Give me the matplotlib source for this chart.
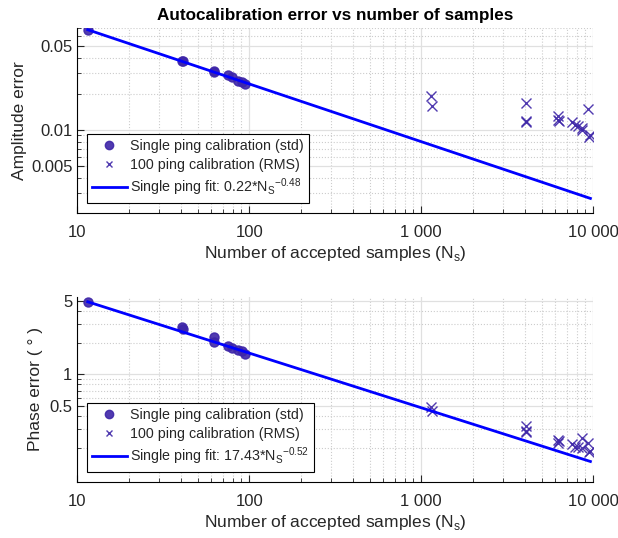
import numpy as np
import matplotlib.pyplot as plt
from matplotlib.ticker import FixedLocator, FixedFormatter, NullFormatter

plt.rcParams['font.family'] = ['Liberation Sans', 'DejaVu Sans']

# single ping calibration points
n_single = [11.5, 40.7, 40.9, 62.4, 62.6, 75.5, 79.6, 86.3, 90.3, 94.4]
amp_single = [0.0675, 0.0376, 0.0372, 0.0309, 0.0305, 0.0285, 0.0274, 0.0257, 0.0251, 0.0241]
phase_single = [4.9, 2.84, 2.69, 2.25, 2.04, 1.86, 1.77, 1.70, 1.67, 1.56]

# 100 ping calibration points
n_multi = [1140, 1150, 4050, 4050, 4070, 6250, 6270, 6280, 7480, 7830, 8190, 8570, 8650, 9270, 9400, 9620]
amp_multi = [0.0193, 0.0157, 0.0169, 0.0119, 0.0117, 0.0130, 0.0122, 0.0118,
             0.0116, 0.0110, 0.0107, 0.0104, 0.0100, 0.0150, 0.0087, 0.0090]
phase_multi = [0.49, 0.45, 0.32, 0.28, 0.29, 0.237, 0.223, 0.23,
               0.217, 0.204, 0.204, 0.198, 0.246, 0.220, 0.183, 0.187]

# power law fits
amp_fit = (0.22, -0.48)
phase_fit = (17.43, -0.52)

x_ticks = [10, 100, 1000, 10000]
x_labels = ['10', '100', '1 000', '10 000']

mark_col = '#3E26A8'
fit_col = '#0000FF'
txt_col = '#262626'

fig = plt.figure(figsize=(6.18, 5.38), dpi=100)
ax1 = fig.add_axes([77.3 / 618, 1 - 212.7 / 538, 516 / 618, 184.4 / 538])
ax2 = fig.add_axes([77.3 / 618, 1 - 481.7 / 538, 516 / 618, 184.4 / 538])

n_fit = np.logspace(np.log10(min(n_single)), np.log10(max(n_multi)), 100)


def setup(ax, ylim, yticks, ylabels):
    ax.set_xscale('log')
    ax.set_yscale('log')
    ax.set_xlim(10, 10000)
    ax.set_ylim(*ylim)
    ax.xaxis.set_major_locator(FixedLocator(x_ticks))
    ax.xaxis.set_major_formatter(FixedFormatter(x_labels))
    ax.xaxis.set_minor_formatter(NullFormatter())
    ax.yaxis.set_major_locator(FixedLocator(yticks))
    ax.yaxis.set_major_formatter(FixedFormatter(ylabels))
    ax.yaxis.set_minor_formatter(NullFormatter())
    ax.spines['top'].set_visible(False)
    ax.spines['right'].set_visible(False)
    ax.tick_params(which='both', direction='in', labelsize=12, color=txt_col, labelcolor=txt_col)
    ax.tick_params(which='major', length=5)
    ax.tick_params(which='minor', length=3)
    ax.tick_params(axis='x', pad=9)
    ax.grid(True, which='major', color='#e0e0e0', linewidth=0.9)
    ax.grid(True, which='minor', color='#cccccc', linestyle=':', linewidth=0.8)
    ax.set_axisbelow(True)
    ax.set_xlabel('Number of accepted samples (N$_\\mathregular{s}$)', fontsize=12.5,
                  color=txt_col, labelpad=3)


# amplitude
setup(ax1, (0.00205, 0.07), [0.005, 0.01, 0.05], ['0.005', '0.01', '0.05'])
ax1.plot(n_single, amp_single, 'o', color=mark_col, ms=6.5, alpha=0.9,
         label='Single ping calibration (std)')
ax1.plot(n_multi, amp_multi, 'x', color=mark_col, ms=6.5, mew=1.0, alpha=0.9,
         label='100 ping calibration (RMS)')
ax1.plot(n_fit, amp_fit[0] * n_fit ** amp_fit[1], color=fit_col, lw=2,
         label='Single ping fit: 0.22*N$_\\mathregular{S}$$^\\mathregular{\u22120.48}$')
ax1.set_ylabel('Amplitude error', fontsize=12.5, color=txt_col)
ax1.yaxis.set_label_coords(-0.098, 0.5)
ax1.set_title('Autocalibration error vs number of samples', fontsize=12.3, fontweight='bold', pad=6)

# phase
setup(ax2, (0.095, 5.4), [0.5, 1, 5], ['0.5', '1', '5'])
ax2.plot(n_single, phase_single, 'o', color=mark_col, ms=6.5, alpha=0.9,
         label='Single ping calibration (std)')
ax2.plot(n_multi, phase_multi, 'x', color=mark_col, ms=6.5, mew=1.0, alpha=0.9,
         label='100 ping calibration (RMS)')
ax2.plot(n_fit, phase_fit[0] * n_fit ** phase_fit[1], color=fit_col, lw=2,
         label='Single ping fit: 17.43*N$_\\mathregular{S}$$^\\mathregular{\u22120.52}$')
ax2.set_ylabel('Phase error ( ° )', fontsize=12.5, color=txt_col)
ax2.yaxis.set_label_coords(-0.066, 0.5)

for ax in (ax1, ax2):
    leg = ax.legend(loc='lower left', bbox_to_anchor=(0.018, 0.05), fontsize=10.3,
                    fancybox=False, framealpha=1, edgecolor='black',
                    borderpad=0.35, labelspacing=0.35, handlelength=2.5,
                    handletextpad=0.2, borderaxespad=0)
    leg.get_frame().set_linewidth(0.8)
    for t in leg.get_texts():
        t.set_color(txt_col)
    leg.legend_handles[0].set_markersize(6)
    leg.legend_handles[1].set_markersize(4)

fig.savefig('out.png', dpi=100)
